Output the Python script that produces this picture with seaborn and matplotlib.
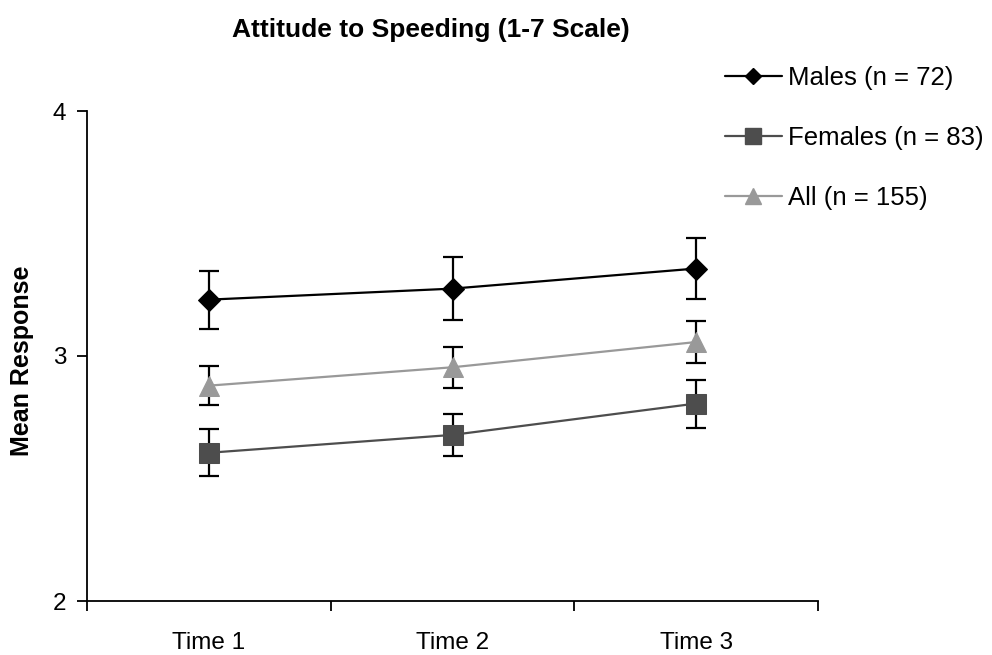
import numpy as np
import pandas as pd
import matplotlib
matplotlib.use("Agg")
import matplotlib.pyplot as plt
from matplotlib.lines import Line2D
import seaborn as sns

# Mean attitude-to-speeding scores (1-7 scale) with error half-widths
times = ["Time 1", "Time 2", "Time 3"]
groups = ["Males (n = 72)", "Females (n = 83)", "All (n = 155)"]
males_mean = [3.23, 3.275, 3.357]
males_err = [0.118, 0.13, 0.123]
females_mean = [2.605, 2.678, 2.806]
females_err = [0.096, 0.087, 0.098]
all_mean = [2.879, 2.954, 3.057]
all_err = [0.081, 0.083, 0.087]

colors = ["#000000", "#4d4d4d", "#999999"]
markers = ["D", "s", "^"]
msizes = [11, 14, 15]
lsize = [8.5, 11.5, 12]

sns.set_theme(style="white")
plt.rcParams["font.family"] = ["Liberation Sans", "DejaVu Sans"]
plt.rcParams["text.color"] = "black"
plt.rcParams["xtick.color"] = "black"
plt.rcParams["ytick.color"] = "black"

means = [males_mean, females_mean, all_mean]
errs = [males_err, females_err, all_err]

rows = []
for g, m, e in zip(groups, means, errs):
    for i, t in enumerate(times):
        rows.append({"group": g, "pos": i, "time": t, "mean": m[i], "err": e[i]})
df = pd.DataFrame(rows)

fig = plt.figure(figsize=(9.92, 6.55), dpi=100)
ax = fig.add_axes([87 / 992, 1 - 601 / 655, (818 - 87) / 992, (601 - 111) / 655])

for g, c, mk, ms in zip(groups, colors, markers, msizes):
    sub = df[df["group"] == g]
    ax.errorbar(sub["pos"], sub["mean"], yerr=sub["err"], fmt="none",
                ecolor="black", elinewidth=1.6, capsize=7, capthick=1.6, zorder=2)
    sns.lineplot(data=sub, x="pos", y="mean", color=c, marker=mk,
                 markersize=ms, markeredgecolor=c, linewidth=1.6,
                 ax=ax, zorder=3, legend=False)

ax.set_xlim(-0.5, 2.5)
ax.set_ylim(2, 4)
ax.set_yticks([2, 3, 4])
ax.set_yticklabels(["2", "3", "4"], fontsize=17.5, color="black")
ax.set_xticks([-0.5, 0.5, 1.5, 2.5])
ax.set_xticklabels([])
ax.set_xticks([0, 1, 2], minor=True)
ax.set_xticklabels(times, minor=True, fontsize=17.5, color="black")
ax.tick_params(axis="x", which="major", direction="out", length=7, width=1.3,
               color="black", bottom=True)
ax.tick_params(axis="x", which="minor", length=0, pad=22)
ax.tick_params(axis="y", direction="out", length=7, width=1.3, color="black",
               left=True, pad=8)
ax.set_xlabel("")
ax.set_ylabel("")
for side in ["top", "right"]:
    ax.spines[side].set_visible(False)
for side in ["left", "bottom"]:
    ax.spines[side].set_color("black")
    ax.spines[side].set_linewidth(1.3)

fig.text(22 / 992, 1 - 361 / 655, "Mean Response", rotation=90, ha="center",
         va="center", fontsize=18, fontweight="bold", color="black")
fig.text(431 / 992, 1 - 30 / 655, "Attitude to Speeding (1-7 Scale)",
         ha="center", va="center", fontsize=19, fontweight="bold", color="black")

handles = [Line2D([], [], color=c, marker=mk, markersize=s, markeredgecolor=c,
                  linewidth=1.6)
           for c, mk, s in zip(colors, markers, lsize)]
leg = ax.legend(handles, groups, loc="upper left",
                bbox_to_anchor=(725 / 992, 1 - 66 / 655),
                bbox_transform=fig.transFigure, frameon=False, fontsize=18.5,
                handlelength=2.2, handletextpad=0.25, labelspacing=1.4,
                borderpad=0, borderaxespad=0)
for t in leg.get_texts():
    t.set_color("black")

fig.savefig("out.png", dpi=100)
